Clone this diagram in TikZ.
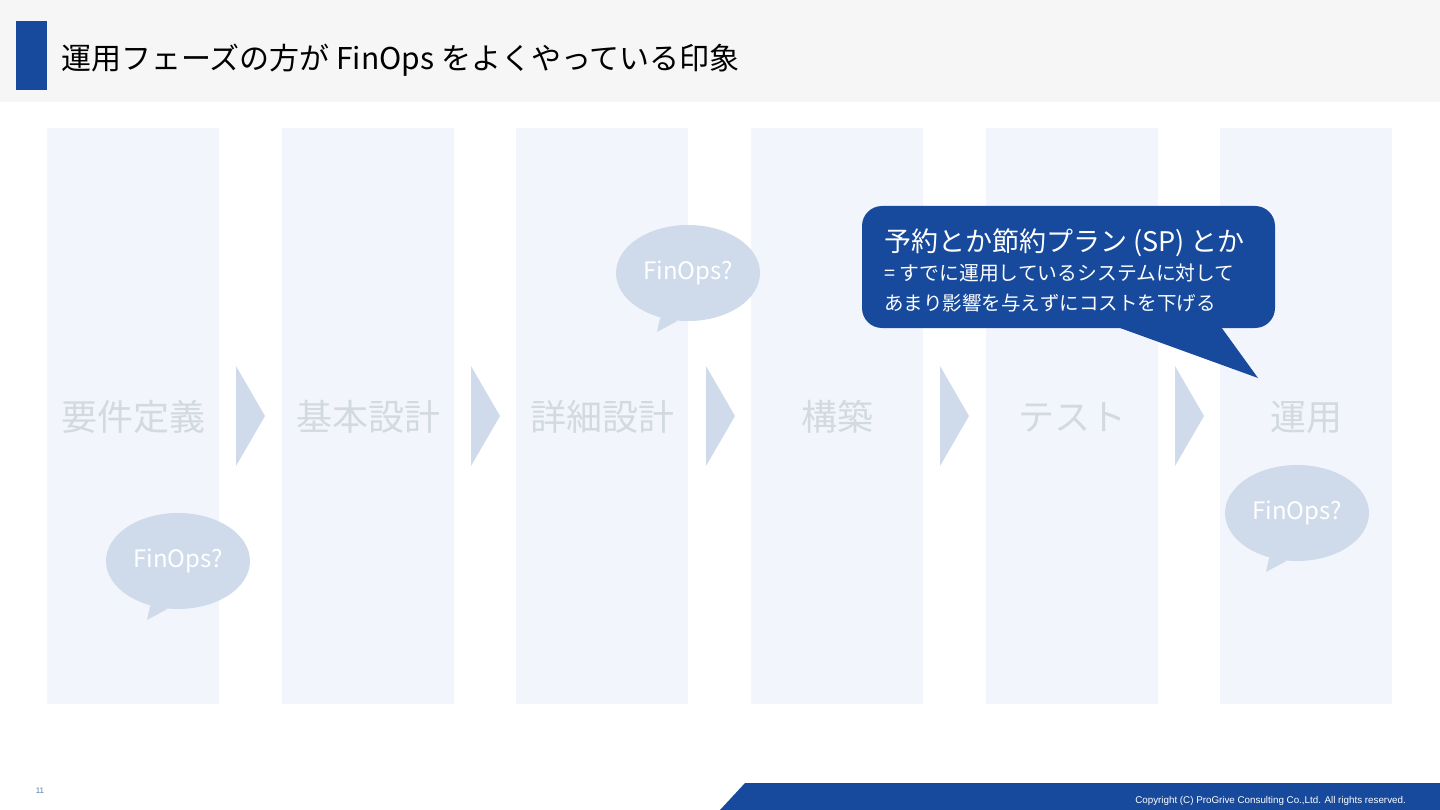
\documentclass[tikz,border=0pt]{standalone}
\usepackage{fontspec}
\setmainfont{Noto Sans CJK JP}
\newfontfamily\copyfont{Liberation Sans}
\usetikzlibrary{shapes.geometric}
\definecolor{brandblue}{HTML}{174A9C}
\definecolor{headgray}{HTML}{F6F6F6}
\definecolor{lanefill}{HTML}{F2F6FC}
\definecolor{paleblue}{HTML}{CFDAEA}
\definecolor{lanetext}{HTML}{D3D9E1}
\definecolor{pagenum}{HTML}{5A78A4}
\begin{document}
\begin{tikzpicture}[x=1pt, y=-1pt,
    lane/.style={fill=lanefill, draw=none},
    lanelabel/.style={text=lanetext, anchor=base, inner sep=0pt, font=\fontsize{36}{42}\selectfont},
    chevron/.style={fill=paleblue, draw=none},
    bubble/.style={ellipse, fill=paleblue, minimum width=144pt, minimum height=96pt, inner sep=0pt,
                   text=white, font=\fontsize{24}{28}\selectfont},
    calloutline/.style={text=white, anchor=base west, inner sep=0pt}]
  \useasboundingbox (0,0) rectangle (1440,810);
  % 标题栏
  \fill[headgray] (0,0) rectangle (1440,102);
  \fill[brandblue] (16,21) rectangle (47,90);
  \node[anchor=base west, inner sep=0pt, font=\fontsize{30}{36}\selectfont] (title) at (61,70)
    {運用フェーズの方が FinOps をよくやっている印象};
  % 各工程
  \foreach \x/\lbl/\nm in {47/要件定義/req, 282/基本設計/bd, 516/詳細設計/dd,
                           751/構築/build, 986/テスト/test, 1220/運用/ops} {
    \fill[lane] (\x,128) rectangle ++(172,576);
    \node[lanelabel] (\nm) at (\x+86,430) {\lbl};
  }
  % 工程间的箭头
  \foreach \x in {236, 471, 706, 940, 1175}
    \fill[chevron] (\x,366) -- (\x+29,416) -- (\x,466) -- cycle;
  % FinOps? 气泡
  \foreach \cx/\cy/\nm in {178/561/fo1, 688/273/fo2, 1297/513/fo3} {
    \node[bubble] (\nm) at (\cx,\cy) {FinOps?};
    \fill[paleblue] (\nm.238) -- (\cx-31,\cy+59) -- (\nm.258) -- cycle;
  }
  % 运用阶段的说明框
  \node[fill=brandblue, rounded corners=20pt, minimum width=413pt, minimum height=122pt,
        inner sep=0pt] (callout) at (1068.5,267) {};
  \coordinate (tailtip) at (1258,378);
  \fill[brandblue] (1098,320) -- (tailtip) -- (1216,320) -- cycle;
  \node[calloutline, font=\fontsize{27}{32}\selectfont] (sp) at (884,252)
    {予約とか節約プラン (SP) とか};
  \node[calloutline, font=\fontsize{19.8}{24}\selectfont] (sys) at (884,281)
    {= すでに運用しているシステムに対して};
  \node[calloutline, font=\fontsize{19.5}{24}\selectfont] (cost) at (884,310)
    {あまり影響を与えずにコストを下げる};
  % 页脚
  \fill[brandblue] (720,810) -- (745,783) -- (1440,783) -- (1440,810) -- cycle;
  \node[anchor=base east, inner sep=0pt, text=white, font=\copyfont\fontsize{9.8}{11}\selectfont]
    (copy) at (1406,803) {Copyright (C) ProGrive Consulting Co.,Ltd. All rights reserved.};
  \node[inner sep=0pt, text=pagenum, font=\copyfont\fontsize{8}{10}\selectfont] (page) at (40,791) {11};
\end{tikzpicture}
\end{document}
